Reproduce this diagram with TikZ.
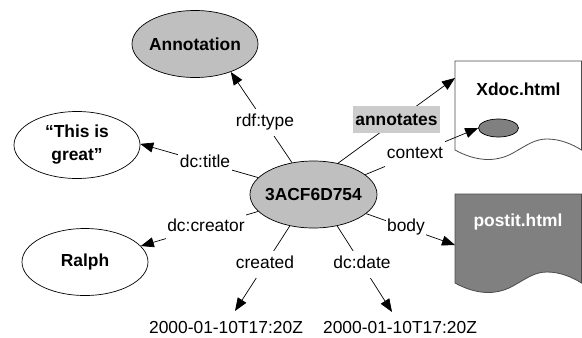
\documentclass[tikz,border=0pt]{standalone}
\usepackage{fontspec}
\setmainfont{Liberation Sans}
\usetikzlibrary{arrows.meta,shapes.geometric}
\definecolor{hubgrey}{gray}{0.75}
\definecolor{darkgrey}{gray}{0.5}
\definecolor{labelgrey}{gray}{0.8}
\tikzset{
  x=1bp,y=-1bp,
  oval/.style={draw=black,line width=0.7bp,ellipse,inner sep=0pt,minimum width=126bp,minimum height=67bp,align=center,font=\fontsize{17.4bp}{23bp}\selectfont\bfseries},
  rel/.style={draw=black,line width=0.7bp,-{Triangle[length=13bp,width=10bp]}},
  lab/.style={fill=white,inner xsep=1.5bp,inner ysep=0pt,minimum height=27bp,text height=13bp,text depth=3.5bp,font=\fontsize{17.4bp}{20bp}\selectfont},
  lit/.style={inner sep=0pt,font=\fontsize{17.4bp}{20bp}\selectfont},
  doctitle/.style={inner sep=0pt,font=\fontsize{17.4bp}{20bp}\selectfont\bfseries},
  sheet/.style={draw=black!70,line width=0.8bp}
}
\newcommand{\docpath}[1]{(455,#1) -- (455,#1+89) .. controls (475,#1+100) and (495,#1+102) .. (513,#1+92) .. controls (527,#1+84) and (535,#1+78) .. (547,#1+78) .. controls (560,#1+78) and (572,#1+83) .. (581.5,#1+89) -- (581.5,#1) -- cycle}
\begin{document}
\begin{tikzpicture}
\useasboundingbox (0,0) rectangle (582,337);
\path[sheet,fill=white] \docpath{61};
\path[sheet,fill=darkgrey] \docpath{194};
\node[oval,fill=hubgrey] (annot) at (195,44) {\makebox[0pt][c]{Annotation}};
\node[oval] (title) at (77,145) {“This is\\great”};
\node[oval] (ralph) at (85,262) {Ralph};
\node[oval,fill=hubgrey,minimum width=127bp] (hub) at (313.5,194.5) {\makebox[0pt][c]{3ACF6D754}};
\node[draw=black,line width=0.7bp,fill=darkgrey,ellipse,inner sep=0pt,minimum width=40bp,minimum height=18bp] (spot) at (498.5,128) {};
\node[doctitle] (xdoc) at (518.5,89) {Xdoc.html};
\node[doctitle,text=white] (postit) at (518,222) {postit.html};
\node[lit] (d1) at (226,328) {2000-01-10T17:20Z};
\node[lit] (d2) at (400,328) {2000-01-10T17:20Z};
\coordinate (tipannotates) at (455,78);
\coordinate (tipbody) at (455,245);
\coordinate (tipcreated) at (235,311);
\coordinate (tipdate) at (392,312);
\draw[rel] (hub.124.3) -- (annot.322.9);
\draw[rel] (hub.163.7) -- (title.1);
\draw[rel] (hub.197.5) -- (ralph.16.7);
\draw[rel] (hub.233.8) -- (tipcreated);
\draw[rel] (hub.307.9) -- (tipdate);
\draw[rel] (hub.340.9) -- (tipbody);
\draw[rel] (hub.52.1) -- (tipannotates);
\draw[rel] (hub.21.7) -- (spot.west);
\node[lab] (l1) at (265,122) {rdf:type};
\node[lab] (l2) at (205,163) {dc:title};
\node[lab] (l3) at (206,227) {dc:creator};
\node[lab] (l4) at (265,264) {created};
\node[lab] (l5) at (362,264) {dc:date};
\node[lab] (l6) at (406,227) {body};
\node[lab] (l8) at (415,154) {context};
\node[fill=labelgrey,inner sep=0pt,minimum width=87bp,minimum height=27bp,font=\fontsize{17.4bp}{20bp}\selectfont\bfseries] (l7) at (396.5,119.5) {annotates};
\end{tikzpicture}
\end{document}
